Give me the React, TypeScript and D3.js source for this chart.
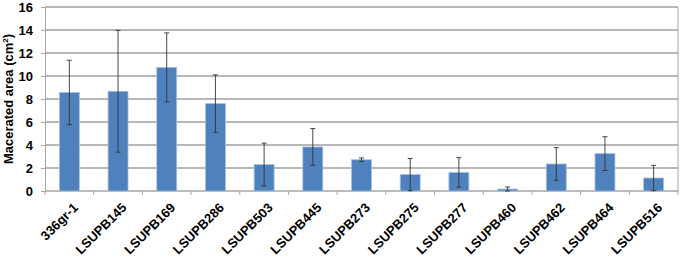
import * as React from 'react'
import { useEffect, useRef } from 'react'
import * as d3 from 'd3'

const strains = ['336gr-1', 'LSUPB145', 'LSUPB169', 'LSUPB286', 'LSUPB503', 'LSUPB445', 'LSUPB273',
  'LSUPB275', 'LSUPB277', 'LSUPB460', 'LSUPB462', 'LSUPB464', 'LSUPB516']
const area = [8.57, 8.67, 10.75, 7.6, 2.3, 3.83, 2.72, 1.43, 1.62, 0.17, 2.35, 3.25, 1.13]
const errors = [2.8, 5.3, 3.0, 2.5, 1.86, 1.6, 0.15, 1.4, 1.28, 0.18, 1.42, 1.47, 1.1]
const yTicks = [0, 2, 4, 6, 8, 10, 12, 14, 16]

const W = 680
const H = 258
const margin = { top: 7, right: 2, bottom: 67, left: 45 }
const FONT = 'Liberation Sans, Arial, sans-serif'

export default function App() {
  const ref = useRef<SVGSVGElement | null>(null)

  useEffect(() => {
    const svg = d3.select(ref.current)
    svg.selectAll('*').remove()
    const iw = W - margin.left - margin.right
    const ih = H - margin.top - margin.bottom

    const x = d3.scaleBand().domain(strains).range([0, iw]).paddingInner(0.59).paddingOuter(0.295)
    const y = d3.scaleLinear().domain([0, 16]).range([ih, 0])

    const g = svg.append('g').attr('transform', `translate(${margin.left},${margin.top})`)

    // gridlines
    g.selectAll('.grid')
      .data(yTicks.slice(1))
      .enter()
      .append('line')
      .attr('x1', 0).attr('x2', iw)
      .attr('y1', d => y(d)).attr('y2', d => y(d))
      .attr('stroke', '#a0a0a0').attr('stroke-width', 1.4)

    // right border
    g.append('line').attr('x1', iw).attr('x2', iw).attr('y1', 0).attr('y2', ih)
      .attr('stroke', '#a6a6a6').attr('stroke-width', 1)

    // y axis
    const ya = g.append('g').call(d3.axisLeft(y).tickValues(yTicks).tickSize(4).tickPadding(8))
    ya.select('.domain').attr('stroke', '#a6a6a6')
    ya.selectAll('line').attr('stroke', '#a6a6a6')
    ya.selectAll('text')
      .attr('font-family', FONT)
      .attr('font-size', 13).attr('font-weight', 'bold').attr('fill', '#000')

    // x axis, ticks between categories
    const step = x.step()
    const xa = g.append('g').attr('transform', `translate(0,${ih})`)
    xa.append('line').attr('x1', 0).attr('x2', iw).attr('stroke', '#a6a6a6').attr('stroke-width', 1.4)
    xa.selectAll('.tk')
      .data(d3.range(strains.length + 1))
      .enter()
      .append('line')
      .attr('x1', i => i * step).attr('x2', i => i * step)
      .attr('y1', 0).attr('y2', 4)
      .attr('stroke', '#a6a6a6')
    xa.selectAll('.lbl')
      .data(strains)
      .enter()
      .append('text')
      .attr('transform', d => `translate(${(x(d) as number) + x.bandwidth() / 2 + 3},${11}) rotate(-45)`)
      .attr('text-anchor', 'end')
      .attr('dy', '0.7em')
      .attr('font-family', FONT)
      .attr('font-size', 13).attr('font-weight', 'bold').attr('fill', '#000')
      .text(d => d)

    // bars
    g.selectAll('.bar')
      .data(strains)
      .enter()
      .append('rect')
      .attr('x', d => x(d) as number)
      .attr('y', (d, i) => y(area[i]))
      .attr('width', x.bandwidth())
      .attr('height', (d, i) => ih - y(area[i]))
      .attr('fill', '#4f81bd')
      .attr('stroke', '#a7c1e2').attr('stroke-width', 0.8)

    // error bars
    const cx = (d: string) => (x(d) as number) + x.bandwidth() / 2
    const hi = (i: number) => y(area[i] + errors[i])
    const lo = (i: number) => y(Math.max(0, area[i] - errors[i]))
    const eb = g.selectAll('.err').data(strains).enter().append('g')
      .attr('stroke', '#333').attr('stroke-width', 0.9)
    eb.append('line')
      .attr('x1', d => cx(d)).attr('x2', d => cx(d))
      .attr('y1', (d, i) => hi(i)).attr('y2', (d, i) => lo(i))
    eb.append('line')
      .attr('x1', d => cx(d) - 2.5).attr('x2', d => cx(d) + 2.5)
      .attr('y1', (d, i) => hi(i)).attr('y2', (d, i) => hi(i))
    eb.append('line')
      .attr('x1', d => cx(d) - 2.5).attr('x2', d => cx(d) + 2.5)
      .attr('y1', (d, i) => lo(i)).attr('y2', (d, i) => lo(i))

    // y label
    const yl = svg.append('text')
      .attr('transform', `translate(8,${margin.top + ih / 2}) rotate(-90)`)
      .attr('text-anchor', 'middle')
      .attr('dy', '0.35em')
      .attr('font-family', FONT)
      .attr('font-size', 13).attr('font-weight', 'bold').attr('fill', '#000')
    yl.append('tspan').text('Macerated area (cm')
    yl.append('tspan').attr('font-size', 8).attr('dy', '-0.6em').text('2')
    yl.append('tspan').attr('dy', '0.35em').text(')')
  }, [])

  return (
    <svg ref={ref} width={W} height={H} style={{ position: 'absolute', left: 0, top: 0 }} />
  )
}
